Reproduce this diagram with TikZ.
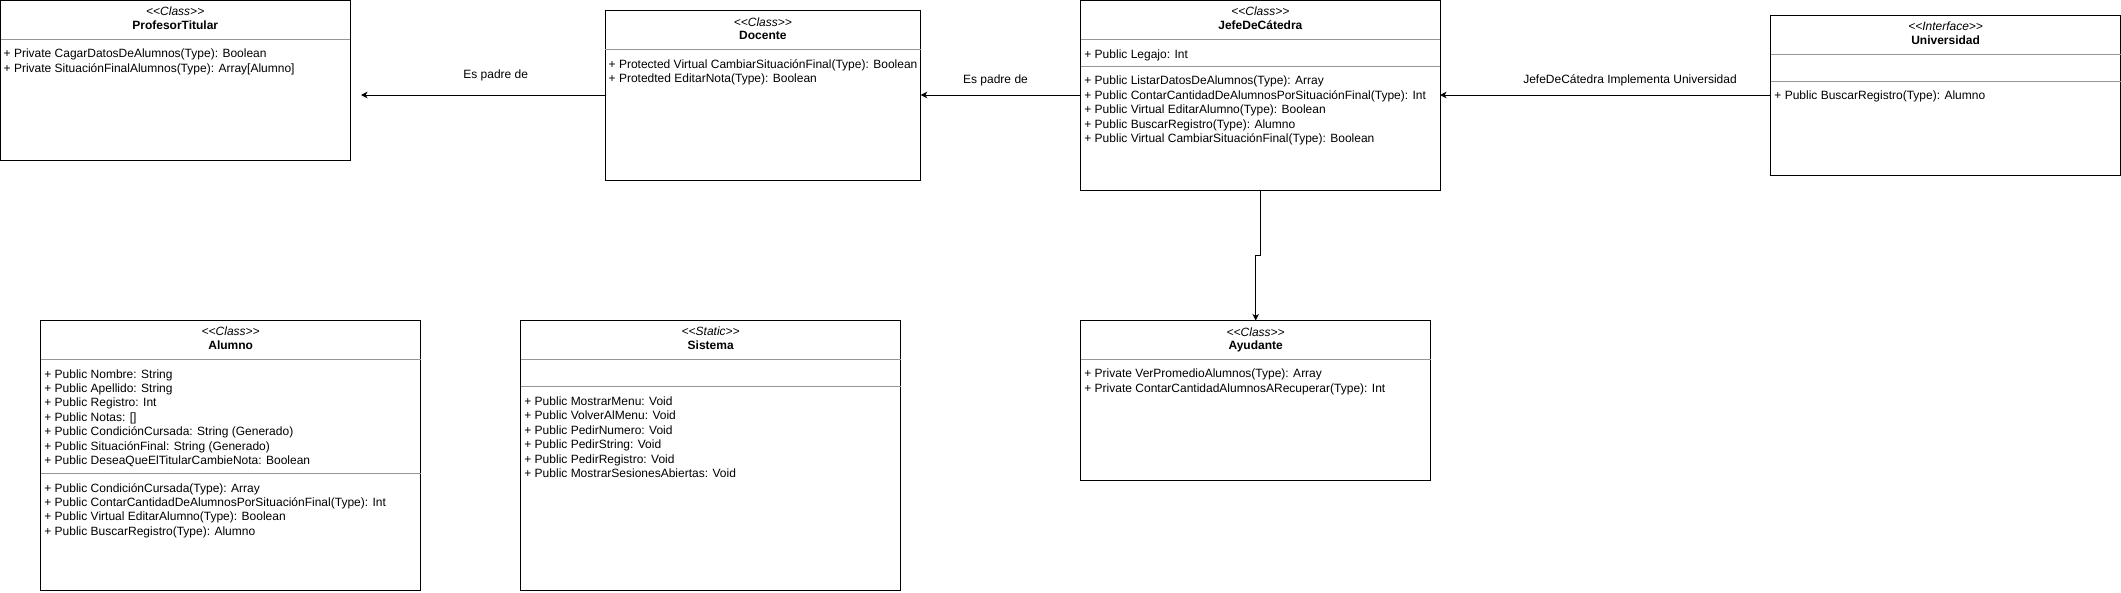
\documentclass[tikz,border=0pt]{standalone}
\usepackage{fontspec}
\setmainfont{Liberation Sans}
\usetikzlibrary{arrows.meta}
\definecolor{sepgray}{RGB}{150,150,150}
\newcommand\myfs{\fontsize{12}{14.4}\selectfont}
\newcommand\firstln{\rule{0pt}{10pt}}
\newcommand\stp[1]{<\kern0pt<#1>\kern0pt>}
\begin{document}
\begin{tikzpicture}[x=1pt,y=-1pt,
  cls/.style={draw=black,line width=1pt,fill=white,inner sep=0pt,outer sep=0pt,anchor=north west},
  sepline/.style={draw=sepgray,line width=1pt},
  stereo/.style={font=\myfs\itshape,anchor=base,inner sep=0pt},
  cname/.style={font=\myfs\bfseries,anchor=base,inner sep=0pt},
  members/.style={font=\myfs,align=left,anchor=north west,inner sep=0pt},
  conn/.style={draw=black,line width=1pt,-{Stealth[length=6.5pt,width=6.5pt,inset=1.8pt]}},
  elabel/.style={font=\myfs,anchor=base,inner sep=0pt}]
\useasboundingbox (0,0) rectangle (2121,592);

% ProfesorTitular
\node[cls,minimum width=349.5pt,minimum height=159.5pt] (prof) at (0.5,0.5) {};
\node[stereo] (profst) at (175.25,15.7) {\stp{Class}};
\node[cname] (profnm) at (175.25,29.3) {ProfesorTitular};
\draw[sepline] (0.5,39) -- (350,39);
\node[members] (profm) at (3.5,47.5) {\firstln+ Private CagarDatosDeAlumnos(Type): Boolean\\+ Private SituaciónFinalAlumnos(Type): Array[Alumno]};

% Docente
\node[cls,minimum width=315.7pt,minimum height=170pt] (doc) at (605,10) {};
\node[stereo] (docst) at (762.85,26) {\stp{Class}};
\node[cname] (docnm) at (762.85,39.3) {Docente};
\draw[sepline] (605,49.3) -- (920.7,49.3);
\node[members] (docm) at (608.5,58) {\firstln+ Protected Virtual CambiarSituaciónFinal(Type): Boolean\\+ Protedted EditarNota(Type): Boolean};

% JefeDeCatedra
\node[cls,minimum width=359.3pt,minimum height=189.5pt] (jefe) at (1080.7,0.5) {};
\node[stereo] (jefest) at (1260.35,15.7) {\stp{Class}};
\node[cname] (jefenm) at (1260.35,29.3) {JefeDeCátedra};
\draw[sepline] (1080.7,39.3) -- (1440,39.3);
\node[members] (jefea) at (1084.2,48) {\firstln+ Public Legajo: Int};
\draw[sepline] (1080.7,66) -- (1440,66);
\node[members] (jefem) at (1084.2,74.6) {\firstln+ Public ListarDatosDeAlumnos(Type): Array\\+ Public ContarCantidadDeAlumnosPorSituaciónFinal(Type): Int\\+ Public Virtual EditarAlumno(Type): Boolean\\+ Public BuscarRegistro(Type): Alumno\\+ Public Virtual CambiarSituaciónFinal(Type): Boolean};

% Universidad
\node[cls,minimum width=349.8pt,minimum height=160pt] (univ) at (1770.7,15) {};
\node[stereo] (univst) at (1945.6,30.7) {\stp{Interface}};
\node[cname] (univnm) at (1945.6,44.3) {Universidad};
\draw[sepline] (1770.7,54) -- (2120.5,54);
\draw[sepline] (1770.7,81) -- (2120.5,81);
\node[members] (univm) at (1774.2,89.6) {\firstln+ Public BuscarRegistro(Type): Alumno};

% Alumno
\node[cls,minimum width=380pt,minimum height=270pt] (alu) at (40.7,320) {};
\node[stereo] (alust) at (230.7,335.7) {\stp{Class}};
\node[cname] (alunm) at (230.7,349.3) {Alumno};
\draw[sepline] (40.7,359.3) -- (420.7,359.3);
\node[members] (alua) at (44.2,367.9) {\firstln+ Public Nombre: String\\+ Public Apellido: String\\+ Public Registro: Int\\+ Public Notas: []\\+ Public CondiciónCursada: String (Generado)\\+ Public SituaciónFinal: String (Generado)\\+ Public DeseaQueElTitularCambieNota: Boolean};
\draw[sepline] (40.7,473.3) -- (420.7,473.3);
\node[members] (alum) at (44.2,481.9) {\firstln+ Public CondiciónCursada(Type): Array\\+ Public ContarCantidadDeAlumnosPorSituaciónFinal(Type): Int\\+ Public Virtual EditarAlumno(Type): Boolean\\+ Public BuscarRegistro(Type): Alumno};

% Sistema
\node[cls,minimum width=380pt,minimum height=270pt] (sis) at (520.7,320) {};
\node[stereo] (sisst) at (710.7,335.7) {\stp{Static}};
\node[cname] (sisnm) at (710.7,349.3) {Sistema};
\draw[sepline] (520.7,359.3) -- (900.7,359.3);
\draw[sepline] (520.7,386.7) -- (900.7,386.7);
\node[members] (sism) at (524.2,395.3) {\firstln+ Public MostrarMenu: Void\\+ Public VolverAlMenu: Void\\+ Public PedirNumero: Void\\+ Public PedirString: Void\\+ Public PedirRegistro: Void\\+ Public MostrarSesionesAbiertas: Void};

% Ayudante
\node[cls,minimum width=350pt,minimum height=159.5pt] (ayu) at (1080.7,320.5) {};
\node[stereo] (ayust) at (1255.7,336.4) {\stp{Class}};
\node[cname] (ayunm) at (1255.7,349.9) {Ayudante};
\draw[sepline] (1080.7,359.1) -- (1430.7,359.1);
\node[members] (ayum) at (1084.2,367.6) {\firstln+ Private VerPromedioAlumnos(Type): Array\\+ Private ContarCantidadAlumnosARecuperar(Type): Int};

% connectors
\coordinate (end1) at (361,95);
\draw[conn] (doc.west) -- (end1);
\node[elabel] (lbl1) at (495.7,78) {Es padre de};
\draw[conn] (jefe.west |- doc.east) -- (doc.east);
\node[elabel] (lbl2) at (995.5,83.6) {Es padre de};
\draw[conn] (univ.west) -- (jefe.east |- univ.west);
\node[elabel] (lbl3) at (1630,83.6) {JefeDeCátedra Implementa Universidad};
\draw[conn] (jefe.south) -- (jefe.south |- 0,255) -- (ayu.north |- 0,255) -- (ayu.north);
\end{tikzpicture}
\end{document}
